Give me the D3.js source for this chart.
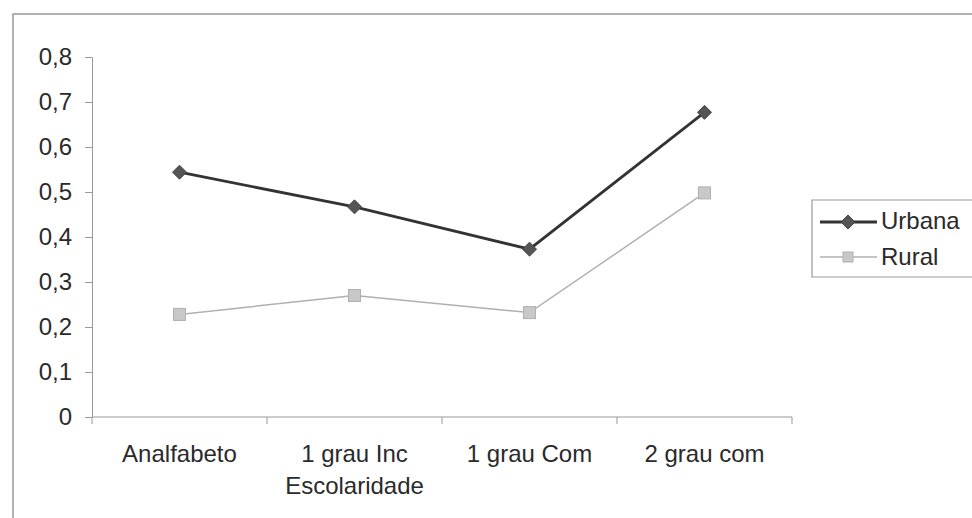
<!DOCTYPE html>
<html><head><meta charset="utf-8">
<script src="https://cdn.jsdelivr.net/npm/d3@7/dist/d3.min.js"></script>
<style>body{margin:0;background:#fff}svg{display:block}text{font-family:"Liberation Sans",Arial,sans-serif;fill:#2a2a2a}</style>
</head><body><svg id="c" width="972" height="518"></svg>
<script>
const categories = ["Analfabeto", "1 grau Inc", "1 grau Com", "2 grau com"];
const urbana = [0.544, 0.467, 0.373, 0.677];
const rural = [0.228, 0.270, 0.232, 0.498];
const yTicks = [0, 0.1, 0.2, 0.3, 0.4, 0.5, 0.6, 0.7, 0.8];
const xTitle = "Escolaridade";
const seriesNames = ["Urbana", "Rural"];

const svg = d3.select("#c");
svg.append("path").attr("d","M13,518 L13,14 L972,14").attr("fill","none").attr("stroke","#999").attr("stroke-width",1.5);

const x = d3.scaleBand().domain(categories).range([92, 792]);
const y = d3.scaleLinear().domain([0, 0.8]).range([417, 57]);

const fmt = d => d === 0 ? "0" : d3.format(".1f")(d).replace(".", ",");
const ya = svg.append("g").attr("transform","translate(92,0)")
  .call(d3.axisLeft(y).tickValues(yTicks).tickFormat(fmt).tickSize(7).tickPadding(13));
ya.attr("font-size",null).attr("font-family",null);
ya.select(".domain").attr("stroke","#999");
ya.selectAll(".tick line").attr("stroke","#999");
ya.selectAll("text").attr("font-size",24).style("fill","#2a2a2a");

const xa = svg.append("g").attr("transform","translate(0,417)");
xa.append("line").attr("x1",92).attr("x2",792).attr("stroke","#999");
const bounds = categories.map(c => x(c)).concat([x.range()[1]]);
xa.selectAll("line.t").data(bounds).join("line").attr("class","t")
  .attr("x1",d=>d).attr("x2",d=>d).attr("y1",0).attr("y2",7).attr("stroke","#999");
xa.selectAll("text.c").data(categories).join("text").attr("class","c")
  .attr("x",d=>x(d)+x.bandwidth()/2).attr("y",45).attr("text-anchor","middle")
  .attr("font-size",24).text(d=>d);
svg.append("text").attr("x",x(categories[1])+x.bandwidth()/2).attr("y",494).attr("text-anchor","middle")
  .attr("font-size",24).text(xTitle);

const cx = c => x(c) + x.bandwidth()/2;
const line = d3.line().x((d,i)=>cx(categories[i])).y(d=>y(d));

svg.append("path").datum(rural).attr("d",line).attr("fill","none").attr("stroke","#b0b0b0").attr("stroke-width",1.5);
svg.append("path").datum(urbana).attr("d",line).attr("fill","none").attr("stroke","#333").attr("stroke-width",2.8);

function diamond(g, px, py, s){
  g.append("path").attr("d",`M${px},${py-s} L${px+s},${py} L${px},${py+s} L${px-s},${py} Z`)
   .attr("fill","#555").attr("stroke","#444").attr("stroke-width",1);
}
function square(g, px, py, s){
  g.append("rect").attr("x",px-s).attr("y",py-s).attr("width",2*s).attr("height",2*s)
   .attr("fill","#c8c8c8").attr("stroke","#b0b0b0").attr("stroke-width",1);
}
const mk = svg.append("g");
urbana.forEach((v,i)=>diamond(mk, cx(categories[i]), y(v), 7));
rural.forEach((v,i)=>square(mk, cx(categories[i]), y(v), 6));

const lg = svg.append("g");
lg.append("path").attr("d","M972,200 L812,200 L812,277 L972,277").attr("fill","none").attr("stroke","#999").attr("stroke-width",1.2);
lg.append("line").attr("x1",820).attr("x2",877).attr("y1",222).attr("y2",222).attr("stroke","#333").attr("stroke-width",2.8);
diamond(lg, 848, 222, 7);
lg.append("text").attr("x",881).attr("y",229).attr("font-size",24).text(seriesNames[0]);
lg.append("line").attr("x1",820).attr("x2",877).attr("y1",257).attr("y2",257).attr("stroke","#b0b0b0").attr("stroke-width",1.5);
square(lg, 848, 257, 5);
lg.append("text").attr("x",881).attr("y",265).attr("font-size",24).text(seriesNames[1]);
</script></body></html>
